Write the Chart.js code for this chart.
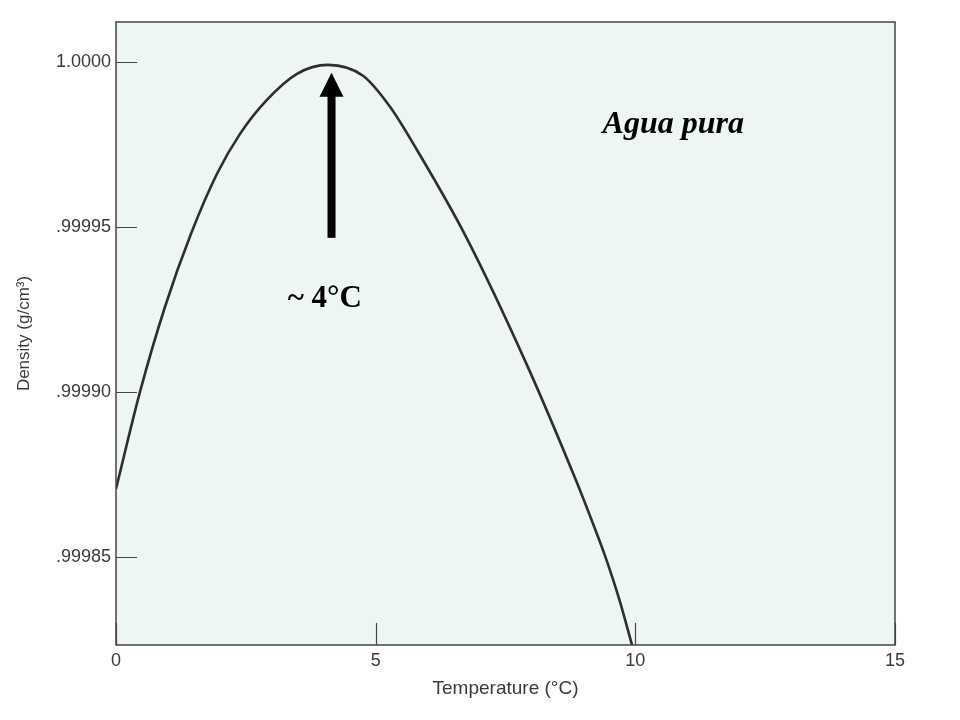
<!DOCTYPE html>
<html>
<head>
<meta charset="utf-8">
<script src="https://cdn.jsdelivr.net/npm/chart.js@4/dist/chart.umd.min.js"></script>
<style>
	html, body { margin: 0; padding: 0; background: #ffffff; }
	#wrap { width: 960px; height: 720px; }
</style>
</head>
<body>
<div id="wrap"><canvas id="chart" width="960" height="720"></canvas></div>
<script>
// ============= Data =============

const temperatures = [0, 0.462, 0.944, 1.444, 1.945, 2.388, 2.888, 3.485, 4.082, 4.756, 5.276, 5.796, 6.740, 7.895, 8.839, 9.128, 9.417, 9.705, 9.936];
const densities = [
	0.9998706, 0.9999000, 0.9999258, 0.9999479, 0.9999661, 0.9999782, 0.9999882, 0.9999964, 0.9999991,
	0.9999958, 0.9999864, 0.9999733, 0.9999470, 0.9999088, 0.9998739, 0.9998624, 0.9998503, 0.9998364, 0.9998233
];

const xTickValues = [0, 5, 10, 15];
const yTickValues = [0.99985, 0.99990, 0.99995, 1.0000];
const yTickLabels = [".99985", ".99990", ".99995", "1.0000"];

const seriesLabel = "Agua pura";
const peakLabel = "~ 4°C";
const peakTemperature = 4.15;

// ============= Utility =============

const INK = "#3a3a3a";
const PLOT_BG = "#edf6f0";

function fixedSize(width, height)
{
	return scale =>
	{
		if (width !== undefined) scale.width = width;
		if (height !== undefined) scale.height = height;
	};
}

// Background, frame, inward tick marks, arrow and text notes
const decorPlugin = {
	id: "decor",

	beforeDraw(chart)
	{
		const { ctx, chartArea: a } = chart;
		ctx.save();
		ctx.fillStyle = PLOT_BG;
		ctx.fillRect(a.left, a.top, a.right - a.left, a.bottom - a.top);
		ctx.restore();
	},

	afterDraw(chart)
	{
		const { ctx, chartArea: a, scales: { x, y } } = chart;

		ctx.save();
		ctx.strokeStyle = "#444";
		ctx.lineWidth = 1.5;
		ctx.strokeRect(a.left, a.top, a.right - a.left, a.bottom - a.top);

		ctx.lineWidth = 1.2;
		ctx.beginPath();
		for (const v of yTickValues)
		{
			const py = Math.round(y.getPixelForValue(v)) + 0.5;
			ctx.moveTo(a.left, py);
			ctx.lineTo(a.left + 21, py);
		}
		for (const v of xTickValues)
		{
			const px = Math.round(x.getPixelForValue(v)) + 0.5;
			ctx.moveTo(px, a.bottom);
			ctx.lineTo(px, a.bottom - 22);
		}
		ctx.stroke();

		// arrow pointing at the maximum
		const ax = x.getPixelForValue(peakTemperature);
		const tip = y.getPixelForValue(0.9999967);
		const tail = y.getPixelForValue(0.9999467);
		ctx.fillStyle = "#000";
		ctx.fillRect(ax - 4, tip + 22, 8, tail - tip - 22);
		ctx.beginPath();
		ctx.moveTo(ax, tip);
		ctx.lineTo(ax + 12, tip + 24);
		ctx.lineTo(ax - 12, tip + 24);
		ctx.closePath();
		ctx.fill();

		ctx.textAlign = "center";
		ctx.textBaseline = "alphabetic";
		ctx.font = "bold 31px 'Liberation Serif', 'Times New Roman', serif";
		ctx.fillText(peakLabel, x.getPixelForValue(4.02), y.getPixelForValue(0.9999258));

		ctx.font = "italic bold 32px 'Liberation Serif', 'Times New Roman', serif";
		ctx.fillText(seriesLabel, x.getPixelForValue(10.73), y.getPixelForValue(0.9999785));
		ctx.restore();
	}
};

// ============= Chart =============

const points = temperatures.map((t, i) => ({ x: t, y: densities[i] }));

new Chart(document.getElementById("chart"), {
	type: "line",
	data: {
		datasets: [{
			label: seriesLabel,
			data: points,
			borderColor: "#2e2e2e",
			borderWidth: 2.6,
			pointRadius: 0,
			cubicInterpolationMode: "monotone",
			fill: false
		}]
	},
	options: {
		responsive: false,
		animation: false,
		layout: { padding: { top: 22, right: 65, left: 0, bottom: 0 } },
		plugins: { legend: { display: false }, tooltip: { enabled: false } },
		scales: {
			x: {
				type: "linear",
				min: 0,
				max: 15,
				afterFit: fixedSize(undefined, 75),
				afterBuildTicks: scale => { scale.ticks = xTickValues.map(v => ({ value: v })); },
				grid: { display: false, drawTicks: false },
				border: { display: false },
				ticks: { color: INK, padding: 5, font: { family: "'Liberation Sans', Arial, sans-serif", size: 18 } },
				title: {
					display: true,
					text: "Temperature (°C)",
					color: INK,
					padding: { top: 0, bottom: 20 },
					font: { family: "'Liberation Sans', Arial, sans-serif", size: 19 }
				}
			},
			y: {
				type: "linear",
				min: 0.9998233,
				max: 1.0000121,
				afterFit: fixedSize(116, undefined),
				afterBuildTicks: scale => { scale.ticks = yTickValues.map(v => ({ value: v })); },
				grid: { display: false, drawTicks: false },
				border: { display: false },
				ticks: {
					color: INK,
					padding: 5,
					font: { family: "'Liberation Sans', Arial, sans-serif", size: 18 },
					callback: (value, index) => yTickLabels[index]
				},
				title: {
					display: true,
					text: "Density (g/cm³)",
					color: INK,
					padding: { top: 14, bottom: 0 },
					font: { family: "'Liberation Sans', Arial, sans-serif", size: 17 }
				}
			}
		}
	},
	plugins: [decorPlugin]
});
</script>
</body>
</html>
